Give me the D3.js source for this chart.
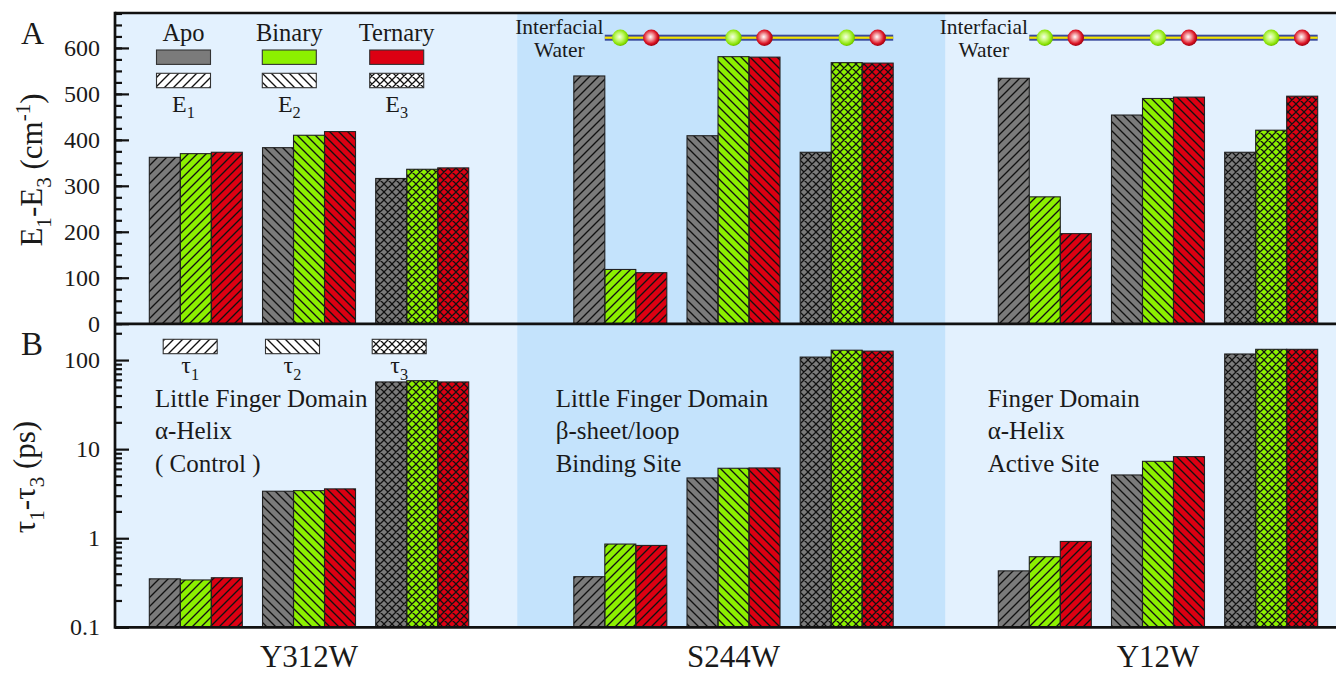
<!DOCTYPE html>
<html>
<head>
<meta charset="utf-8">
<script src="https://cdn.jsdelivr.net/npm/d3@7"></script>
<style>
  body { margin: 0; background: #fff; }
  svg { display: block; }
  text { font-family: "Liberation Serif", "Times New Roman", serif; fill: #1a1a1a; }
</style>
</head>
<body>
<svg id="chart" width="1336" height="673"></svg>
<script>
// ---- data -------------------------------------------------------------
const mutants = ["Y312W", "S244W", "Y12W"];
const states = ["Apo", "Binary", "Ternary"];
const components = ["1", "2", "3"];           // E1..E3 and tau1..tau3

// energies (cm^-1), ordered mutant by mutant, E1, E2, E3
const energyApo     = [362, 383, 316, 539, 409, 373, 534, 454, 373];
const energyBinary  = [370, 410, 336, 118, 581, 568, 276, 490, 421];
const energyTernary = [373, 418, 339, 111, 580, 567, 196, 493, 495];

// time constants (ps), same ordering
const tauApo     = [0.35, 3.37, 56.8, 0.37, 4.75, 108, 0.43, 5.13, 117];
const tauBinary  = [0.34, 3.42, 58.7, 0.86, 6.10, 129, 0.62, 7.30, 132];
const tauTernary = [0.36, 3.58, 56.8, 0.83, 6.15, 126, 0.92, 8.24, 132];

const energyTicks = [0, 100, 200, 300, 400, 500, 600];
const tauTicks = [0.1, 1, 10, 100];
const tauTickLabels = ["0.1", "1", "10", "100"];

const siteNotes = [
  ["Little Finger Domain", "\u03b1-Helix", "( Control )"],
  ["Little Finger Domain", "\u03b2-sheet/loop", "Binding Site"],
  ["Finger Domain", "\u03b1-Helix", "Active Site"]
];
const waterMutants = ["S244W", "Y12W"];

// ---- styles ------------------------------------------------------------
const stateColors = { Apo: "#7b7b7b", Binary: "#8cf000", Ternary: "#dc0012" };
const bandLight = "#e3f1fe";
const bandMid = "#c4e3fc";

// ---- layout ------------------------------------------------------------
const svg = d3.select("#chart");
const frameLeft = 115, frameRight = 1340;
const aTop = 13, aBottom = 323.7, bTop = 324, bBottom = 627.3;
const groupStep = 3.75;            // cluster units between mutant groups

const x = d3.scaleLinear().domain([-0.714, 10.1]).range([frameLeft, 1339.1]);
const sub = d3.scaleBand().domain(states).range([-46.5, 46.5]);
const yE = d3.scaleLinear().domain([0, 676]).range([aBottom, aTop]);
const yT = d3.scaleLog().domain([0.1, 254]).range([bBottom, bTop]);

const clusterPos = (g, k) => g * groupStep + k;

const energyByState = { Apo: energyApo, Binary: energyBinary, Ternary: energyTernary };
const tauByState = { Apo: tauApo, Binary: tauBinary, Ternary: tauTernary };

const bars = [];
mutants.forEach((m, g) => components.forEach((c, k) => states.forEach(s => {
  const i = g * 3 + k;
  bars.push({ g, k, s, e: energyByState[s][i], t: tauByState[s][i] });
})));

// ---- hatch patterns ------------------------------------------------------
const defs = svg.append("defs");
function diagPath(n, dir) {
  // one full diagonal plus the corner pieces so tiles join seamlessly
  return dir > 0
    ? `M0,${n} L${n},0 M-2,2 L2,-2 M${n - 2},${n + 2} L${n + 2},${n - 2}`
    : `M0,0 L${n},${n} M-2,${n - 2} L2,${n + 2} M${n - 2},-2 L${n + 2},2`;
}
const hatchDefs = [
  { n: 9, d: diagPath(9, 1), w: 1.35 },
  { n: 9, d: diagPath(9, -1), w: 1.35 },
  { n: 8, d: diagPath(8, 1) + " " + diagPath(8, -1), w: 1.25 }
];
hatchDefs.forEach((h, i) => {
  defs.append("pattern")
    .attr("id", "hatch" + i)
    .attr("patternUnits", "userSpaceOnUse")
    .attr("width", h.n).attr("height", h.n)
    .append("path").attr("d", h.d)
    .attr("stroke", "#111").attr("stroke-width", h.w).attr("fill", "none");
});

const gGreen = defs.append("radialGradient").attr("id", "ballGreen")
  .attr("cx", "0.45").attr("cy", "0.45").attr("r", "0.55");
[[0, "#f6ffe6"], [0.45, "#c2f86a"], [0.85, "#86e000"], [1, "#6cbc00"]]
  .forEach(([o, c]) => gGreen.append("stop").attr("offset", o).attr("stop-color", c));
const gRed = defs.append("radialGradient").attr("id", "ballRed")
  .attr("cx", "0.45").attr("cy", "0.45").attr("r", "0.55");
[[0, "#ffffff"], [0.35, "#f29a9e"], [0.75, "#dc1626"], [1, "#a0000e"]]
  .forEach(([o, c]) => gRed.append("stop").attr("offset", o).attr("stop-color", c));

// ---- background bands --------------------------------------------------
const midCenter = clusterPos(1, 1);
const midLeft = x(midCenter - 1.91), midRight = x(midCenter + 1.87);
[[aTop, aBottom], [bTop, bBottom]].forEach(([t, b]) => {
  svg.append("rect").attr("x", frameLeft).attr("y", t)
    .attr("width", frameRight - frameLeft).attr("height", b - t).attr("fill", bandLight);
  svg.append("rect").attr("x", midLeft).attr("y", t)
    .attr("width", midRight - midLeft).attr("height", b - t).attr("fill", bandMid);
});

// ---- bars ----------------------------------------------------------------
function drawBars(layer, y, key, floor) {
  const gBars = svg.append("g").attr("class", layer);
  const bx = d => x(clusterPos(d.g, d.k)) + sub(d.s);
  gBars.selectAll("rect.fill").data(bars).join("rect").attr("class", "fill")
    .attr("x", bx).attr("width", sub.bandwidth())
    .attr("y", d => y(d[key])).attr("height", d => y(floor) - y(d[key]))
    .attr("fill", d => stateColors[d.s]);
  gBars.selectAll("rect.hatch").data(bars).join("rect").attr("class", "hatch")
    .attr("x", bx).attr("width", sub.bandwidth())
    .attr("y", d => y(d[key])).attr("height", d => y(floor) - y(d[key]))
    .attr("fill", d => `url(#hatch${d.k})`)
    .attr("stroke", "#222").attr("stroke-width", 1.1);
}
drawBars("energy", yE, "e", 0);
drawBars("tau", yT, "t", 0.1);

// ---- axes ----------------------------------------------------------------
function styleAxis(g) {
  g.select(".domain").remove();
  g.attr("font-family", null);
  g.selectAll(".tick line").attr("stroke", "#111").attr("stroke-width", 2.2);
  g.selectAll(".tick text").attr("font-size", 24).attr("fill", "#1a1a1a");
}
svg.append("g").attr("transform", `translate(${frameLeft},0)`)
  .call(d3.axisLeft(yE).tickValues(d3.range(0, 676, 25)).tickSizeInner(-7).tickSizeOuter(0).tickFormat(""))
  .call(styleAxis);
svg.append("g").attr("transform", `translate(${frameLeft},0)`)
  .call(d3.axisLeft(yE).tickValues(energyTicks).tickSizeInner(-14).tickSizeOuter(0).tickPadding(15).tickFormat(d3.format("d")))
  .call(styleAxis);

const tauMinor = [];
[0.1, 1, 10, 100].forEach(dec => d3.range(2, 10).forEach(m => { if (dec * m <= 254) tauMinor.push(dec * m); }));
svg.append("g").attr("transform", `translate(${frameLeft},0)`)
  .call(d3.axisLeft(yT).tickValues(tauMinor).tickSizeInner(-7).tickSizeOuter(0).tickFormat(""))
  .call(styleAxis);
svg.append("g").attr("transform", `translate(${frameLeft},0)`)
  .call(d3.axisLeft(yT).tickValues(tauTicks).tickSizeInner(-14).tickSizeOuter(0).tickPadding(15)
    .tickFormat((d, i) => tauTickLabels[i]))
  .call(styleAxis);

// frame lines
const frame = svg.append("g").attr("stroke", "#111").attr("stroke-width", 2.7);
frame.append("line").attr("x1", frameLeft).attr("x2", frameRight).attr("y1", aTop).attr("y2", aTop);
frame.append("line").attr("x1", frameLeft).attr("x2", frameRight).attr("y1", aBottom + 0.2).attr("y2", aBottom + 0.2);
frame.append("line").attr("x1", frameLeft).attr("x2", frameRight).attr("y1", bBottom).attr("y2", bBottom);
frame.append("line").attr("x1", frameLeft).attr("x2", frameLeft).attr("y1", aTop - 1.35).attr("y2", bBottom + 1.35);

// ---- text helpers --------------------------------------------------------
function richText(sel, parts, size) {
  // parts: [text, shift] where shift is "sub", "sup" or null
  let offset = 0;
  parts.forEach(([txt, kind]) => {
    const target = kind === "sub" ? size * 0.28 : kind === "sup" ? -size * 0.38 : 0;
    sel.append("tspan")
      .attr("dy", target - offset)
      .attr("font-size", kind ? size * 0.68 : size)
      .text(txt);
    offset = target;
  });
}

// panel letters
svg.append("text").attr("x", 21).attr("y", 44).attr("font-size", 32).text("A");
svg.append("text").attr("x", 21).attr("y", 355).attr("font-size", 33).text("B");

// axis titles
richText(svg.append("text").attr("text-anchor", "middle")
  .attr("transform", "translate(42,170) rotate(-90)"),
  [["E", null], ["1", "sub"], ["-E", null], ["3", "sub"], [" (cm", null], ["-1", "sup"], [")", null]], 31);
richText(svg.append("text").attr("text-anchor", "middle")
  .attr("transform", "translate(35,477) rotate(-90)"),
  [["\u03c4", null], ["1", "sub"], ["-\u03c4", null], ["3", "sub"], [" (ps)", null]], 31);

// ---- legends -------------------------------------------------------------
const legendA = [183.5, 289.3, 396.7];
const legendB = [190.2, 292.5, 399.2];
const legW = 54, legH = 14.4;
states.forEach((s, i) => {
  svg.append("text").attr("x", legendA[i]).attr("y", 40.7)
    .attr("text-anchor", "middle").attr("font-size", 24.5).text(s);
  svg.append("rect").attr("x", legendA[i] - legW / 2).attr("y", 50)
    .attr("width", legW).attr("height", legH)
    .attr("fill", stateColors[s]).attr("stroke", "#333").attr("stroke-width", 1.1);
});
components.forEach((c, i) => {
  [[legendA[i], 73.3], [legendB[i], 339.3]].forEach(([cx, ty]) => {
    svg.append("rect").attr("x", cx - legW / 2).attr("y", ty)
      .attr("width", legW).attr("height", legH).attr("fill", "#fff");
    svg.append("rect").attr("x", cx - legW / 2).attr("y", ty)
      .attr("width", legW).attr("height", legH)
      .attr("fill", `url(#hatch${i})`).attr("stroke", "#333").attr("stroke-width", 1.1);
  });
  richText(svg.append("text").attr("x", legendA[i]).attr("y", 111.7).attr("text-anchor", "middle"),
    [["E", null], [c, "sub"]], 24);
  richText(svg.append("text").attr("x", legendB[i]).attr("y", 373).attr("text-anchor", "middle"),
    [["\u03c4", null], [c, "sub"]], 24);
});

// ---- site descriptions ---------------------------------------------------
const noteX = [155, 555.7, 987.7];
siteNotes.forEach((lines, g) => {
  lines.forEach((line, j) => {
    svg.append("text").attr("x", noteX[g]).attr("y", 406.7 + j * 32.5)
      .attr("font-size", 25).text(line);
  });
});

// ---- mutant labels -------------------------------------------------------
mutants.forEach((m, g) => {
  svg.append("text").attr("x", x(clusterPos(g, 1))).attr("y", 667)
    .attr("text-anchor", "middle").attr("font-size", 31).text(m);
});

// ---- interfacial water chains -------------------------------------------
waterMutants.forEach(m => {
  const g = mutants.indexOf(m);
  const x0 = x(clusterPos(g, 0)) + sub("Binary");
  const x1 = x(clusterPos(g, 2)) + sub("Ternary") + sub.bandwidth();
  const yLine = 37.7;
  svg.append("rect").attr("x", x0).attr("y", yLine - 3).attr("width", x1 - x0).attr("height", 6)
    .attr("fill", "#3b4a9c");
  svg.append("rect").attr("x", x0).attr("y", yLine - 1.1).attr("width", x1 - x0).attr("height", 2.2)
    .attr("fill", "#f4e400");
  components.forEach((c, k) => {
    ["Binary", "Ternary"].forEach(s => {
      svg.append("circle")
        .attr("cx", x(clusterPos(g, k)) + sub(s) + sub.bandwidth() / 2)
        .attr("cy", yLine).attr("r", 8.2)
        .attr("fill", s === "Binary" ? "url(#ballGreen)" : "url(#ballRed)");
    });
  });
  svg.append("text").attr("x", x0 - 45.5).attr("y", 33.8)
    .attr("text-anchor", "middle").attr("font-size", 21.5).text("Interfacial");
  svg.append("text").attr("x", x0 - 45.5).attr("y", 56.5)
    .attr("text-anchor", "middle").attr("font-size", 21.5).text("Water");
});
</script>
</body>
</html>
